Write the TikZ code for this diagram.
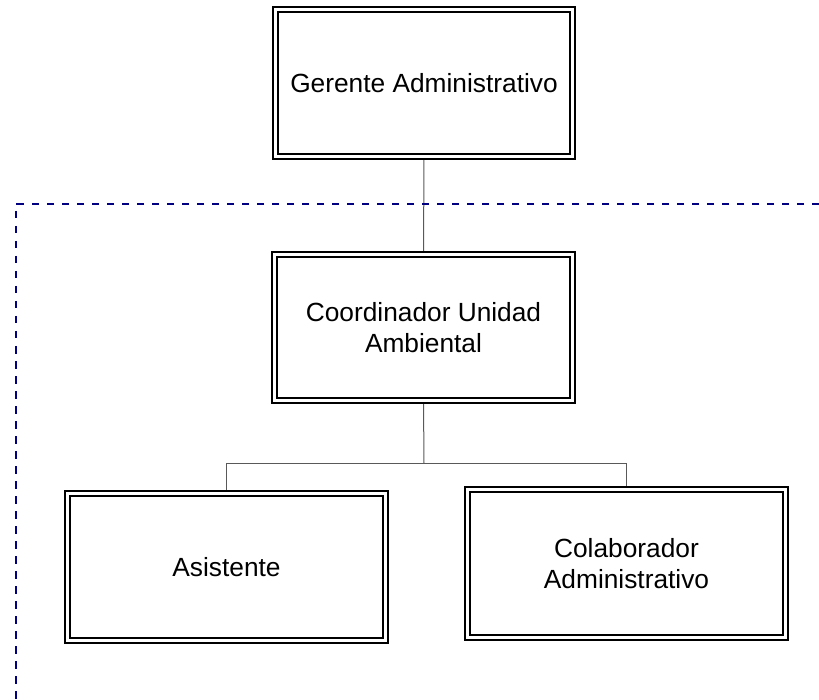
\documentclass[tikz,border=0pt]{standalone}
\usepackage{fontspec}
\setmainfont{Liberation Sans}
\usetikzlibrary{backgrounds}
\definecolor{frameblue}{RGB}{0,0,128}
\begin{document}
\begin{tikzpicture}[x=1pt,y=-1pt,
  unitbox/.style={draw=black, double=white, double distance=3pt, line width=1.7pt,
    fill=white, inner sep=0pt, align=center,
    font=\fontsize{26.3}{31.5}\selectfont},
  link/.style={draw=black!65, line width=1pt},
  frame/.style={draw=frameblue, line width=2pt, dash pattern=on 7.5pt off 7.5pt}]
  \useasboundingbox (0,0) rectangle (819,700);

  % dashed boundary of the unit
  \coordinate (fr) at (819,204);
  \coordinate (fc) at (16,204);
  \coordinate (fb) at (16,700);
  \draw[frame] (fr) -- (fc) -- (fb);

  % organisation boxes
  \node[unitbox, minimum width=297pt, minimum height=147pt] (ger) at (424,83) {Gerente Administrativo};
  \node[unitbox, minimum width=298pt, minimum height=146pt] (coord) at (423.5,327.5) {Coordinador Unidad\\Ambiental};
  \node[unitbox, minimum width=318pt, minimum height=147pt] (asis) at (226.5,567) {Asistente};
  \node[unitbox, minimum width=318pt, minimum height=148pt] (colab) at (626.5,563.5) {Colaborador\\Administrativo};

  % reporting lines
  \coordinate (split) at (424,463.5);
  \begin{scope}[on background layer]
    \draw[link] (ger.south) -- (coord.north);
    \draw[link] (coord.south) -- (split);
    \draw[link] (asis.north) |- (split) -| (colab.north);
  \end{scope}
\end{tikzpicture}
\end{document}
